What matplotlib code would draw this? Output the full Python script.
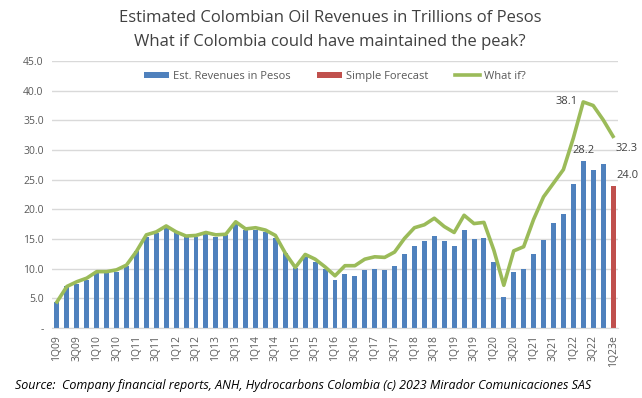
import numpy as np
import matplotlib
matplotlib.use("Agg")
import matplotlib.pyplot as plt

plt.rcParams['font.family'] = ['Open Sans', 'DejaVu Sans']

# quarters 1Q09 .. 1Q23e
quarters = [f"{q}Q{y:02d}" for y in range(9, 23) for q in range(1, 5)] + ["1Q23e"]

revenue = [4.4, 7.0, 7.5, 8.1, 9.3, 9.2, 9.5, 10.4, 12.9, 15.4, 16.0, 17.1, 16.2, 15.4,
           15.4, 15.9, 15.4, 15.7, 17.6, 16.6, 16.6, 16.2, 15.1, 12.6, 10.1, 12.0, 11.2,
           9.9, 8.1, 9.1, 8.7, 9.7, 9.9, 9.8, 10.4, 12.5, 13.8, 14.7, 15.5, 14.7, 13.8,
           16.5, 15.0, 15.1, 11.1, 5.2, 9.4, 9.9, 12.5, 14.8, 17.7, 19.2, 24.3, 28.2,
           26.6, 27.6]
forecast = [24.0]
what_if = [4.4, 7.0, 7.8, 8.4, 9.5, 9.5, 9.8, 10.6, 12.9, 15.7, 16.2, 17.2, 16.2, 15.5,
           15.6, 16.1, 15.7, 15.8, 17.9, 16.7, 16.9, 16.5, 15.6, 12.6, 10.2, 12.4, 11.6,
           10.3, 8.8, 10.5, 10.5, 11.6, 12.0, 11.9, 12.8, 15.1, 16.9, 17.4, 18.5, 17.1,
           16.1, 19.0, 17.6, 17.8, 13.1, 7.2, 13.0, 13.7, 18.3, 22.1, 24.4, 26.7, 32.0,
           38.1, 37.5, 35.1, 32.3]

blue = '#4f81bd'
red = '#c0504d'
green = '#9bbb59'
grey = '#595959'

fig = plt.figure(figsize=(6.42, 3.98), dpi=100)
ax = fig.add_axes([52/642, 1-328/398, 566/642, 267/398])

x = np.arange(len(quarters))
n = len(revenue)
b1 = ax.bar(x[:n], revenue, width=0.5, color=blue, label='Est. Revenues in Pesos', zorder=2)
b2 = ax.bar(x[n:], forecast, width=0.5, color=red, label='Simple Forecast', zorder=2)
l1, = ax.plot(x, what_if, color=green, lw=2.6, label='What if?', zorder=3, solid_joinstyle='round')

ax.set_xlim(-0.5, len(quarters) - 0.5)
ax.set_ylim(0, 45)
yt = np.arange(0, 46, 5)
ax.set_yticks(yt)
ax.set_yticklabels(['-'] + [f"{v:.1f}" for v in yt[1:]], color=grey, fontsize=7.5)
ax.set_xticks(x[::2])
ax.set_xticklabels(quarters[::2], rotation=90, color=grey, fontsize=7.5)
ax.tick_params(length=0, pad=6)
ax.tick_params(axis='x', pad=5)
ax.grid(axis='y', color='#d9d9d9', lw=1, zorder=0)
for s in ['top', 'right', 'left']:
    ax.spines[s].set_visible(False)
ax.spines['bottom'].set_color('#d9d9d9')

# data labels
ipk = int(np.argmax(what_if))
ax.text(ipk - 0.6, what_if[ipk], f"{what_if[ipk]:.1f}", ha='right', va='center', fontsize=8, color='#404040')
ax.text(ipk, revenue[ipk] + 0.8, f"{revenue[ipk]:.1f}", ha='center', va='bottom', fontsize=8, color='#404040')
ax.text(x[-1] + 0.3, what_if[-1] - 1.2, f"{what_if[-1]:.1f}", ha='left', va='top', fontsize=8, color='#404040')
ax.text(x[-1] + 0.3, forecast[0] + 0.8, f"{forecast[0]:.1f}", ha='left', va='bottom', fontsize=8, color='#404040')

ax.legend([b1, b2, l1], ['Est. Revenues in Pesos', 'Simple Forecast', 'What if?'],
          loc='upper center', bbox_to_anchor=(0.5, 1.0), ncol=3, frameon=False, fontsize=8,
          handlelength=2.2, handleheight=0.5, columnspacing=2.4, handletextpad=0.4, labelcolor=grey)

fig.text(0.514, 0.955, "Estimated Colombian Oil Revenues in Trillions of Pesos", ha='center', va='center',
         fontsize=12.0, color='#404040')
fig.text(0.514, 0.895, "What if Colombia could have maintained the peak?", ha='center', va='center',
         fontsize=12.0, color='#404040')
fig.text(15/642, 1-385/398, "Source:  Company financial reports, ANH, Hydrocarbons Colombia (c) 2023 Mirador Comunicaciones SAS",
         ha='left', va='center', fontsize=9.0, style='italic', color='black')

fig.savefig('out.png', dpi=100)
